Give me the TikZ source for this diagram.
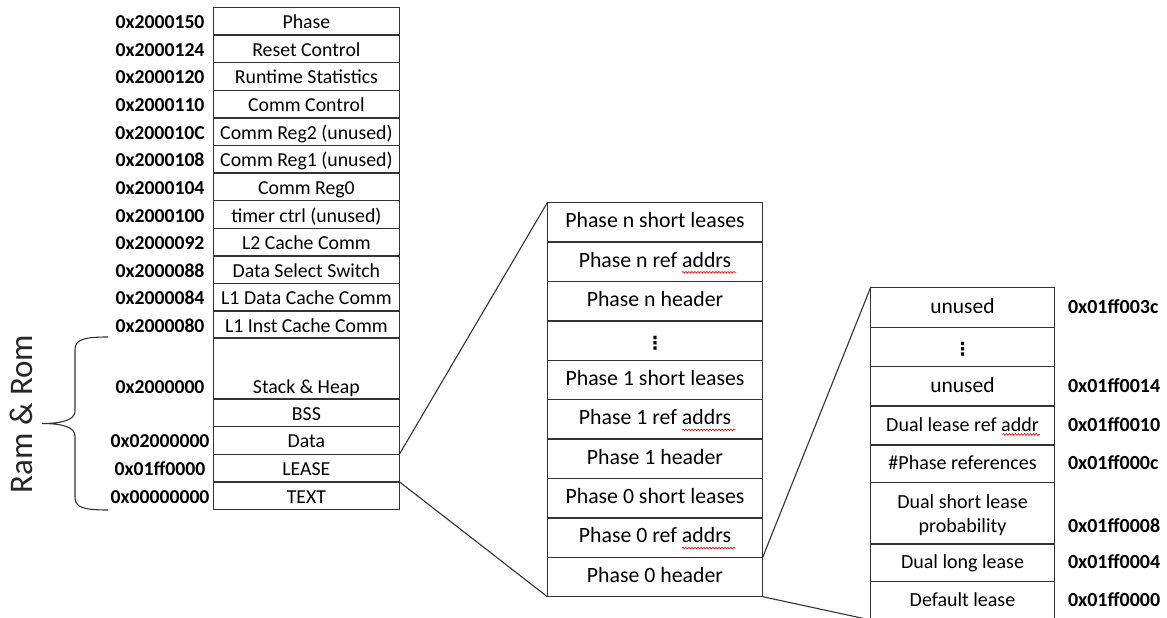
\documentclass[tikz,border=0pt]{standalone}
\usepackage{fontspec}
\setmainfont{Carlito}
\newfontfamily\dejavu{DejaVu Sans}
\usetikzlibrary{decorations.pathmorphing,calc}
\begin{document}
\begin{tikzpicture}[x=1pt,y=-1pt,
  every node/.style={inner sep=0pt, outer sep=0pt},
  cellbox/.style={draw=black!80, line width=1.4pt, rectangle, align=center},
  lcell/.style={cellbox, minimum width=186pt, minimum height=27.6pt, font=\fontsize{19.8}{22}\selectfont, text height=15pt, text depth=0pt},
  laddr/.style={font=\bfseries\fontsize{19.7}{22}\selectfont, text height=15pt, text depth=0pt},
  mcell/.style={cellbox, minimum width=215.4pt, minimum height=39.4pt, font=\fontsize{21.8}{24}\selectfont, text height=10.6pt, text depth=0pt},
  rcell/.style={cellbox, minimum width=183.6pt, font=\fontsize{20}{24}\selectfont, text height=12pt, text depth=0pt},
  raddr/.style={anchor=west, font=\bfseries\fontsize{20}{22}\selectfont, text height=12pt, text depth=0pt},
  conn/.style={draw=black!80, line width=1.1pt},
  squig/.style={draw=red!85!black, line width=0.6pt, decorate, decoration={snake, amplitude=0.9pt, segment length=3pt}},
  vdotsfont/.style={font=\dejavu\bfseries\fontsize{18}{20}\selectfont},
]
\useasboundingbox (0,0) rectangle (1167,618);

% ---------- left column ----------
\foreach \i/\t/\a in {1/Phase/0x2000150, 2/Reset Control/0x2000124, 3/Runtime Statistics/0x2000120,
  4/Comm Control/0x2000110, 5/Comm Reg2 (unused)/0x200010C, 6/Comm Reg1 (unused)/0x2000108,
  7/Comm Reg0/0x2000104, 8/timer ctrl (unused)/0x2000100, 9/L2 Cache Comm/0x2000092,
  10/Data Select Switch/0x2000088, 11/L1 Data Cache Comm/0x2000084, 12/L1 Inst Cache Comm/0x2000080} {
  \node[lcell] (L\i) at (306.4,{7.5+27.6*(\i-0.5)}) {\t};
  \node[laddr] (A\i) at (160,{7.5+27.6*(\i-0.5)}) {\a};
}
\node[lcell, minimum height=60.9pt] (L13) at (306.4,368.55) {};
\node[anchor=base, font=\fontsize{19.8}{22}\selectfont] (L13t) at (306.4,393.3) {Stack \& Heap};
\node[anchor=base, font=\bfseries\fontsize{19.7}{22}\selectfont] (A13) at (160,393.3) {0x2000000};
\node[lcell] (L14) at (306.4,412.8) {BSS};
\node[lcell] (L15) at (306.4,440.4) {Data};
\node[laddr] (A15) at (160,440.4) {0x02000000};
\node[lcell] (L16) at (306.4,468.0) {LEASE};
\node[laddr] (A16) at (160,468.0) {0x01ff0000};
\node[lcell] (L17) at (306.4,495.6) {TEXT};
\node[laddr] (A17) at (160,495.6) {0x00000000};

% brace
\draw[draw=black!80, line width=1.1pt]
  (108,337) .. controls (82,337) and (75,340) .. (75,350) -- (75,411)
  .. controls (75,420) and (62,423.5) .. (42,423.5)
  .. controls (62,423.5) and (75,427) .. (75,436) -- (75,497)
  .. controls (75,507) and (82,510) .. (108,510);
\node[rotate=90, anchor=base, font=\fontsize{33}{36}\selectfont, text=black!85] (ram) at (32.7,414) {Ram \& Rom};

% ---------- middle column ----------
\foreach \i/\t in {1/Phase n short leases, 2/Phase n ref addrs, 3/Phase n header,
  5/Phase 1 short leases, 6/Phase 1 ref addrs, 7/Phase 1 header,
  8/Phase 0 short leases, 9/Phase 0 ref addrs, 10/Phase 0 header} {
  \node[mcell] (M\i) at (655,{202.7+39.4*(\i-0.5)}) {\t};
}
\node[mcell] (M4) at (655,340.6) {};
\node[vdotsfont] (M4d) at (655,343) {⋮};

\foreach \i in {2,6,9} {
  \draw[squig] ($(M\i.center)+(27,10.5)$) -- ($(M\i.center)+(81,10.5)$);
}

% ---------- right column ----------
\node[rcell, minimum height=40pt, font=\fontsize{21.5}{24}\selectfont] (R1) at (962.5,307.3) {unused};
\node[raddr] (B1) at (1068,307.3) {0x01ff003c};
\node[rcell, minimum height=39.4pt] (R2) at (962.5,347) {};
\node[vdotsfont] (R2d) at (962.5,349) {⋮};
\node[rcell, minimum height=39.3pt, font=\fontsize{21.5}{24}\selectfont] (R3) at (962.5,386.35) {unused};
\node[raddr] (B3) at (1068,386.35) {0x01ff0014};
\node[rcell, minimum height=39pt] (R4) at (962.5,425.5) {Dual lease ref addr};
\node[raddr] (B4) at (1068,425.5) {0x01ff0010};
\draw[squig] ($(R4.center)+(40,9)$) -- ($(R4.center)+(77,9)$);
\node[rcell, minimum height=37.3pt] (R5) at (962.5,463.65) {\#Phase references};
\node[raddr] (B5) at (1068,463.65) {0x01ff000c};
\node[rcell, minimum height=61.7pt] (R6) at (962.5,513.15) {};
\node[align=center, font=\fontsize{20}{24}\selectfont] (R6t) at (962.5,515.5) {Dual short lease\\probability};
\node[raddr] (B6) at (1068,526.3) {0x01ff0008};
\node[rcell, minimum height=37.7pt] (R7) at (962.5,562.85) {Dual long lease};
\node[raddr] (B7) at (1068,562.85) {0x01ff0004};
\node[rcell, minimum height=38.3pt] (R8) at (962.5,600.85) {Default lease};
\node[raddr] (B8) at (1068,600.85) {0x01ff0000};

% ---------- connectors ----------
\draw[conn] (L16.north east) -- (M1.north west);
\draw[conn] (L16.south east) -- (M10.south west);
\draw[conn] (M9.south east) -- (R1.north west);
\draw[conn] (M10.south east) -- (R8.south west);
\end{tikzpicture}
\end{document}
